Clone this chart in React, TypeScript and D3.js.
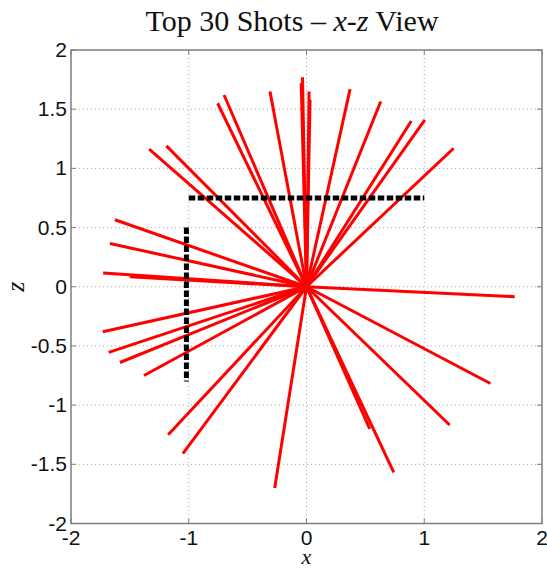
import React from "react"
import * as d3 from "d3"

// shot end points (x, z); every shot starts at the origin
const shotX = [-0.034, -0.045, 0.022, 0.03, -0.31, -0.70, -0.755, 0.37, 0.63, 0.89, 1.005, 1.25,
    -1.336, -1.19, -1.627, -1.67, -1.727, -1.5, -1.73, -1.68, -1.585, -1.38, -1.175, -1.05,
    -0.27, 1.768, 1.562, 1.216, 0.741, 0.537]
const shotZ = [1.77, 1.72, 1.65, 1.58, 1.65, 1.62, 1.55, 1.67, 1.565, 1.40, 1.41, 1.17,
    1.163, 1.19, 0.566, 0.366, 0.116, 0.085, -0.38, -0.555, -0.64, -0.75, -1.25, -1.41,
    -1.70, -0.084, -0.817, -1.168, -1.568, -1.20]

// dashed guide lines
const guideX = [[-1, 1], [-1.02, -1.02]]
const guideZ = [[0.75, 0.75], [0.5, -0.8]]

const xTicks = [-2, -1, 0, 1, 2]
const zTicks = [-2, -1.5, -1, -0.5, 0, 0.5, 1, 1.5, 2]

const W = 547
const H = 570
const margin = { top: 50, right: 5, bottom: 46.5, left: 71 }

export default function App() {
    const x = d3.scaleLinear().domain([-2, 2]).range([margin.left, W - margin.right])
    const y = d3.scaleLinear().domain([-2, 2]).range([H - margin.bottom, margin.top])
    const line = d3.line<[number, number]>().x(d => x(d[0])).y(d => y(d[1]))

    const x0 = x(-2), x1 = x(2), y0 = y(-2), y1 = y(2)
    const axisColor = "#7f7f7f"
    const tickLen = 5
    const fmt = (v: number) => String(v)

    return (
        <svg width={W} height={H} style={{ position: "absolute", left: 0, top: 0, background: "#fff" }}
            fontFamily="'Liberation Sans', Arial, sans-serif">
            <rect x={0} y={0} width={W} height={H} fill="#fff" />

            {/* grid */}
            {xTicks.slice(1, -1).map(t => (
                <line key={"gx" + t} x1={x(t)} x2={x(t)} y1={y1} y2={y0}
                    stroke="#a8a8a8" strokeWidth={1} strokeDasharray="1,3" />
            ))}
            {zTicks.slice(1, -1).map(t => (
                <line key={"gz" + t} x1={x0} x2={x1} y1={y(t)} y2={y(t)}
                    stroke="#a8a8a8" strokeWidth={1} strokeDasharray="1,3" />
            ))}

            {/* shots */}
            {shotX.map((sx, i) => (
                <path key={"s" + i} d={line([[0, 0], [sx, shotZ[i]]]) || ""}
                    fill="none" stroke="#ff0000" strokeWidth={3} />
            ))}

            {/* dashed guides */}
            {guideX.map((gx, i) => (
                <path key={"g" + i} d={line([[gx[0], guideZ[i][0]], [gx[1], guideZ[i][1]]]) || ""}
                    fill="none" stroke="#000" strokeWidth={5} strokeDasharray="6.5,2.5" />
            ))}

            {/* box and ticks */}
            <rect x={x0} y={y1} width={x1 - x0} height={y0 - y1} fill="none" stroke={axisColor} strokeWidth={1.5} />
            {xTicks.map(t => (
                <g key={"tx" + t}>
                    <line x1={x(t)} x2={x(t)} y1={y0} y2={y0 - tickLen} stroke={axisColor} />
                    <line x1={x(t)} x2={x(t)} y1={y1} y2={y1 + tickLen} stroke={axisColor} />
                    <text x={x(t)} y={y0 + 21} textAnchor="middle" fontSize={21} fill="#111">{fmt(t)}</text>
                </g>
            ))}
            {zTicks.map(t => (
                <g key={"tz" + t}>
                    <line x1={x0} x2={x0 + tickLen} y1={y(t)} y2={y(t)} stroke={axisColor} />
                    <line x1={x1} x2={x1 - tickLen} y1={y(t)} y2={y(t)} stroke={axisColor} />
                    <text x={x0 - 4} y={y(t) + 7} textAnchor="end" fontSize={21} fill="#111">{fmt(t)}</text>
                </g>
            ))}

            {/* labels */}
            <text x={292} y={31} textAnchor="middle" fontFamily="'Liberation Serif', 'Times New Roman', serif" fontSize={30} fill="#111">
                Top 30 Shots – <tspan fontStyle="italic">x</tspan>-<tspan fontStyle="italic">z</tspan> View
            </text>
            <text x={x(0)} y={564} textAnchor="middle" fontFamily="'Liberation Serif', serif" fontStyle="italic" fontSize={22} fill="#111">x</text>
            <text transform={`translate(24,${y(0)}) rotate(-90)`} textAnchor="middle" fontFamily="'Liberation Serif', serif"
                fontStyle="italic" fontSize={26} fill="#111">z</text>
        </svg>
    )
}
